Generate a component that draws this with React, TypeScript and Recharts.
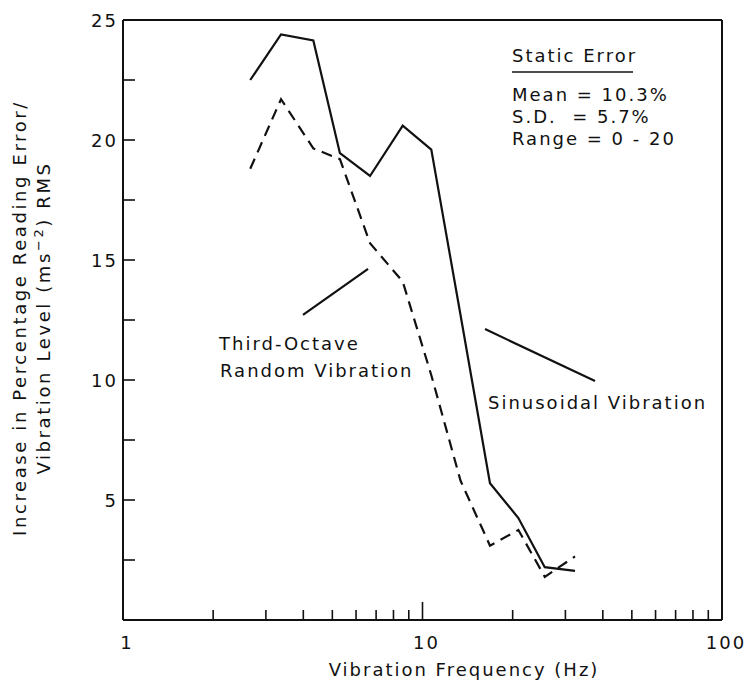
import React from "react";
import {
  ComposedChart,
  Line,
  XAxis,
  YAxis,
  ReferenceLine,
  Customized,
} from "recharts";

// Third-octave centre frequencies (Hz) at which both responses were measured
const frequencies = [2.66, 3.37, 4.32, 5.3, 6.68, 8.59, 10.7, 13.4, 16.8, 20.9, 25.6, 32.3];
// Increase in percentage reading error per unit vibration level
const sinusoidal = [22.5, 24.4, 24.15, 19.45, 18.5, 20.6, 19.6, 12.7, 5.7, 4.25, 2.2, 2.05];
const randomVib = [18.8, 21.7, 19.65, 19.2, 15.7, 14.1, 10.2, 5.8, 3.1, 3.75, 1.8, 2.65];

const xTicks = [1, 2, 3, 4, 5, 6, 7, 8, 9, 10, 20, 30, 40, 50, 60, 70, 80, 90, 100];
const xLabelled = [1, 10, 100];
const yTicks = [0, 2.5, 5, 7.5, 10, 12.5, 15, 17.5, 20, 22.5, 25];
const yLabelled = [5, 10, 15, 20, 25];

const staticError = ["Mean = 10.3%", "S.D.  = 5.7%", "Range = 0 - 20"];

const data = frequencies.map((f, i) => ({
  f,
  sin: sinusoidal[i],
  rnd: randomVib[i],
}));

const FONT = "'DejaVu Sans', sans-serif";
const INK = "#111";
const FS = 18;
const LS = 2;

const XTick = (props: any) => {
  const { x, y, payload } = props;
  const v = payload.value;
  const major = v === 10;
  const len = major ? 18 : 10;
  const showLine = v !== 1 && v !== 100;
  return (
    <g>
      {showLine && <line x1={x} y1={y} x2={x} y2={y - len} stroke={INK} strokeWidth={1.6} />}
      {xLabelled.includes(v) && (
        <text
          x={x + 4}
          y={y + 29}
          textAnchor="middle"
          fontSize={FS}
          letterSpacing={LS}
          fontFamily={FONT}
          fill={INK}
        >
          {v}
        </text>
      )}
    </g>
  );
};

const YTick = (props: any) => {
  const { x, y, payload } = props;
  const v = payload.value;
  return (
    <g>
      {v !== 0 && v !== 25 && (
        <line x1={x} y1={y} x2={x + 12} y2={y} stroke={INK} strokeWidth={1.6} />
      )}
      {yLabelled.includes(v) && (
        <text
          x={x - 5}
          y={y + 7}
          textAnchor="end"
          fontSize={FS}
          letterSpacing={LS}
          fontFamily={FONT}
          fill={INK}
        >
          {v}
        </text>
      )}
    </g>
  );
};

const Annotations = () => (
  <g fontFamily={FONT} fill={INK} fontSize={FS} letterSpacing={LS}>
    <text x={512} y={62}>Static Error</text>
    <line x1={512} y1={72} x2={633} y2={72} stroke={INK} strokeWidth={1.4} />
    {staticError.map((s, i) => (
      <text key={s} x={512} y={101 + i * 22} style={{ whiteSpace: "pre" }}>
        {s}
      </text>
    ))}
    <text x={219} y={350}>Third-Octave</text>
    <text x={220} y={377}>Random Vibration</text>
    <text x={488} y={409}>Sinusoidal Vibration</text>
    <text x={464} y={676} textAnchor="middle">Vibration Frequency (Hz)</text>
    <g letterSpacing={2.6}>
      <text x={26} y={318} textAnchor="middle" transform="rotate(-90 26 318)">
        Increase in Percentage Reading Error/
      </text>
      <text x={50} y={318} textAnchor="middle" transform="rotate(-90 50 318)">
        Vibration Level (ms
        <tspan dy={-7} fontSize={13}>−2</tspan>
        <tspan dy={7}>) RMS</tspan>
      </text>
    </g>
  </g>
);

export default function App() {
  return (
    <div style={{ position: "absolute", left: 0, top: 0, background: "#fff" }}>
      <ComposedChart
        width={751}
        height={684}
        data={data}
        margin={{ top: 19, right: 28, bottom: 63, left: 122 }}
      >
        <XAxis
          xAxisId="bottom"
          dataKey="f"
          type="number"
          scale="log"
          domain={[1, 100]}
          ticks={xTicks}
          interval={0}
          allowDataOverflow
          height={1}
          tickSize={0}
          tickMargin={0}
          tickLine={false}
          axisLine={{ stroke: INK, strokeWidth: 2 }}
          tick={<XTick />}
        />
        <XAxis
          xAxisId="top"
          orientation="top"
          type="number"
          scale="log"
          domain={[1, 100]}
          height={1}
          tick={false}
          tickLine={false}
          axisLine={{ stroke: INK, strokeWidth: 2 }}
        />
        <YAxis
          yAxisId="left"
          type="number"
          domain={[0, 25]}
          ticks={yTicks}
          interval={0}
          width={1}
          tickSize={0}
          tickMargin={0}
          tickLine={false}
          axisLine={{ stroke: INK, strokeWidth: 2 }}
          tick={<YTick />}
        />
        <YAxis
          yAxisId="right"
          orientation="right"
          type="number"
          domain={[0, 25]}
          width={1}
          tick={false}
          tickLine={false}
          axisLine={{ stroke: INK, strokeWidth: 2 }}
        />
        <Line
          xAxisId="bottom"
          yAxisId="left"
          dataKey="sin"
          stroke={INK}
          strokeWidth={2.2}
          dot={false}
          isAnimationActive={false}
        />
        <Line
          xAxisId="bottom"
          yAxisId="left"
          dataKey="rnd"
          stroke={INK}
          strokeWidth={2.2}
          strokeDasharray="11 7"
          dot={false}
          isAnimationActive={false}
        />
        <ReferenceLine
          xAxisId="bottom"
          yAxisId="left"
          segment={[{ x: 3.99, y: 12.71 }, { x: 6.58, y: 14.63 }]}
          stroke={INK}
          strokeWidth={2.2}
        />
        <ReferenceLine
          xAxisId="bottom"
          yAxisId="left"
          segment={[{ x: 16.17, y: 12.12 }, { x: 37.67, y: 9.96 }]}
          stroke={INK}
          strokeWidth={2.2}
        />
        <Customized component={<Annotations />} />
      </ComposedChart>
    </div>
  );
}
